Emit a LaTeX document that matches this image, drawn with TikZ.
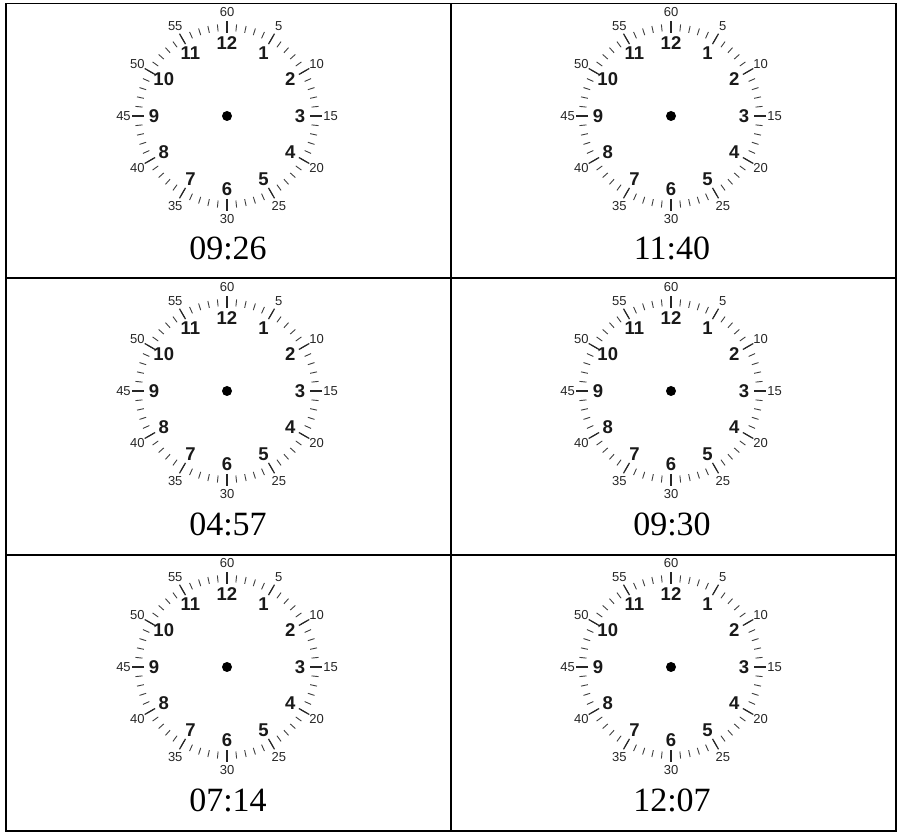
\documentclass[tikz,border=0pt]{standalone}
\usepackage{fontspec}
\setmainfont{Liberation Serif}
\newfontfamily\clocksans{Liberation Sans}
\begin{document}
\begin{tikzpicture}[x=1pt,y=1pt,
  gridline/.style={line width=1.8pt, black},
  hournum/.style={font=\clocksans\bfseries\fontsize{18.5}{18.5}\selectfont, inner sep=0pt, text=black!90},
  minlabel/.style={font=\clocksans\fontsize{13}{13}\selectfont, inner sep=0pt, text=black!85},
  timelabel/.style={font=\fontsize{34}{34}\selectfont, inner sep=0pt},
  shorttick/.style={line width=0.9pt, black!75},
  longtick/.style={line width=1.2pt, black!85},
  centerdot/.style={circle, fill=black, minimum size=10pt, inner sep=0pt}]
\useasboundingbox (0,0) rectangle (897,833);
% table grid
\coordinate (tl) at (6,829.5);
\coordinate (br) at (896,2);
\draw[gridline] (tl) rectangle (br);
\coordinate (mt) at (451,829.5);
\coordinate (mb) at (451,2);
\draw[gridline] (mt) -- (mb);
\coordinate (r1l) at (6,555);
\coordinate (r1r) at (896,555);
\draw[gridline] (r1l) -- (r1r);
\coordinate (r2l) at (6,278);
\coordinate (r2r) at (896,278);
\draw[gridline] (r2l) -- (r2r);
% clocks
\foreach \cx/\cy/\ly/\t/\i in {227/717/584.5/09:26/1, 671/717/584.5/11:40/2,
                               227/442/309/04:57/3, 671/442/309/09:30/4,
                               227/166/33/07:14/5, 671/166/33/12:07/6}{
  \begin{scope}[shift={(\cx,\cy)}]
    \foreach \m in {0,...,59}{
      \draw[shorttick] ({90-6*\m}:85) -- ({90-6*\m}:92);
    }
    \foreach \k in {0,...,11}{
      \draw[longtick] ({90-30*\k}:83) -- ({90-30*\k}:95);
    }
    \foreach \k/\lab in {0/60,1/5,2/10,3/15,4/20,5/25,6/30,7/35,8/40,9/45,10/50,11/55}{
      \node[minlabel] (c\i-m\k) at ({90-30*\k}:103.5) {\lab};
    }
    \foreach \k/\lab in {0/12,1/1,2/2,3/3,4/4,5/5,6/6,7/7,8/8,9/9,10/10,11/11}{
      \node[hournum] (c\i-h\k) at ({90-30*\k}:73) {\lab};
    }
    \node[centerdot] (c\i-dot) at (0,0) {};
  \end{scope}
  \node[timelabel] (c\i-time) at (\cx+1,\ly) {\t};
}
\end{tikzpicture}
\end{document}
